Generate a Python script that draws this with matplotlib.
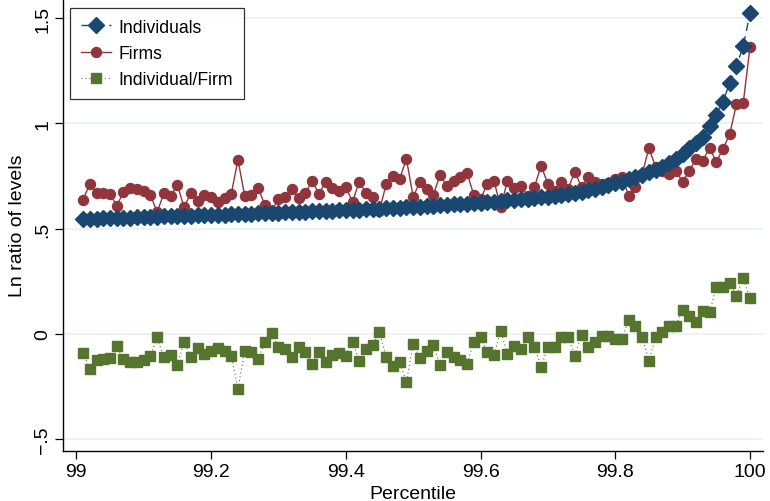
import numpy as np
import matplotlib
matplotlib.use("Agg")
import matplotlib.pyplot as plt

plt.rcParams['font.family'] = ['Liberation Sans', 'DejaVu Sans']

# percentile grid 99.01 ... 100
percentile = np.linspace(99.01, 100.0, 100)

individuals = [
    0.546, 0.547, 0.548, 0.549, 0.550, 0.551, 0.552, 0.553, 0.554, 0.555,
    0.556, 0.557, 0.558, 0.559, 0.560, 0.561, 0.562, 0.563, 0.564, 0.565,
    0.566, 0.567, 0.568, 0.570, 0.571, 0.572, 0.573, 0.574, 0.575, 0.576,
    0.577, 0.578, 0.579, 0.580, 0.582, 0.583, 0.584, 0.585, 0.587, 0.588,
    0.589, 0.591, 0.592, 0.594, 0.595, 0.597, 0.598, 0.600, 0.602, 0.603,
    0.605, 0.607, 0.609, 0.611, 0.613, 0.615, 0.617, 0.619, 0.621, 0.623,
    0.625, 0.628, 0.631, 0.634, 0.637, 0.640, 0.643, 0.646, 0.649, 0.652,
    0.655, 0.659, 0.664, 0.670, 0.676, 0.683, 0.690, 0.698, 0.706, 0.715,
    0.724, 0.734, 0.745, 0.757, 0.769, 0.781, 0.795, 0.812, 0.833, 0.856,
    0.882, 0.908, 0.937, 0.987, 1.040, 1.103, 1.194, 1.273, 1.368, 1.524,
]

firms = [
    0.638, 0.712, 0.668, 0.668, 0.665, 0.609, 0.673, 0.692, 0.688, 0.680,
    0.661, 0.578, 0.668, 0.654, 0.708, 0.601, 0.669, 0.630, 0.661, 0.649,
    0.628, 0.644, 0.665, 0.828, 0.654, 0.660, 0.692, 0.612, 0.585, 0.641,
    0.649, 0.689, 0.644, 0.668, 0.728, 0.665, 0.720, 0.692, 0.680, 0.697,
    0.628, 0.723, 0.668, 0.649, 0.585, 0.712, 0.752, 0.736, 0.831, 0.652,
    0.720, 0.689, 0.660, 0.757, 0.701, 0.728, 0.744, 0.765, 0.660, 0.640,
    0.712, 0.728, 0.601, 0.728, 0.692, 0.701, 0.657, 0.697, 0.800, 0.712,
    0.680, 0.723, 0.689, 0.771, 0.697, 0.744, 0.723, 0.712, 0.717, 0.736,
    0.744, 0.657, 0.697, 0.760, 0.884, 0.792, 0.776, 0.760, 0.776, 0.723,
    0.776, 0.831, 0.823, 0.884, 0.818, 0.879, 0.950, 1.093, 1.097, 1.362,
]

ratio = [
    -0.091, -0.167, -0.123, -0.120, -0.117, -0.060, -0.120, -0.132, -0.132, -0.125,
    -0.107, -0.017, -0.112, -0.101, -0.148, -0.037, -0.109, -0.069, -0.096, -0.080,
    -0.069, -0.080, -0.104, -0.262, -0.080, -0.088, -0.120, -0.037, 0.002, -0.061,
    -0.072, -0.109, -0.064, -0.088, -0.144, -0.085, -0.136, -0.101, -0.091, -0.104,
    -0.037, -0.128, -0.072, -0.053, 0.007, -0.112, -0.152, -0.136, -0.228, -0.048,
    -0.115, -0.080, -0.053, -0.147, -0.088, -0.112, -0.123, -0.144, -0.040, -0.017,
    -0.088, -0.101, 0.015, -0.096, -0.056, -0.072, -0.017, -0.061, -0.156, -0.064,
    -0.064, -0.017, -0.017, -0.104, -0.006, -0.064, -0.037, -0.012, -0.009, -0.025,
    -0.025, 0.067, 0.036, -0.014, -0.128, -0.017, 0.010, 0.036, 0.039, 0.113,
    0.086, 0.058, 0.110, 0.102, 0.221, 0.221, 0.240, 0.181, 0.264, 0.169,
]

xticks = [99, 99.2, 99.4, 99.6, 99.8, 100]
xticklabels = ["99", "99.2", "99.4", "99.6", "99.8", "100"]
yticks = [-0.5, 0, 0.5, 1, 1.5]
yticklabels = ["\u2212.5", "0", ".5", "1", "1.5"]

navy = "#1a476f"
maroon = "#90353b"
green = "#55752f"

fig = plt.figure(figsize=(7.7, 5.02), dpi=100)
ax = fig.add_axes([63.3 / 770, (502 - 452.3) / 502, (762.7 - 63.3) / 770, 452.3 / 502])

ax.plot(percentile, firms, color=maroon, lw=1.0, marker="o", ms=7.2,
        mec=maroon, mfc=maroon, label="Firms", zorder=3)
ax.plot(percentile, individuals, color=navy, lw=1.0, ls=(0, (6, 4)), marker="D", ms=8.2,
        mec=navy, mfc=navy, label="Individuals", zorder=4)
ax.plot(percentile, ratio, color=green, lw=0.8, ls=(0, (1, 2.5)), marker="s", ms=7.0,
        mec=green, mfc=green, label="Individual/Firm", zorder=3)

ax.set_xlim(98.9807, 100.0189)
ax.set_ylim(-0.5585, 1.5918)
ax.set_xticks(xticks)
ax.set_xticklabels(xticklabels)
ax.set_yticks(yticks)
ax.set_yticklabels(yticklabels, rotation=90, va="center")

ax.yaxis.grid(True, color="#eaf2f3", lw=1.3)
ax.set_axisbelow(True)
for s in ["top", "right"]:
    ax.spines[s].set_visible(False)
for s in ["left", "bottom"]:
    ax.spines[s].set_linewidth(1.0)
ax.tick_params(axis="both", length=5.5, width=0.9, labelsize=14, pad=3)

ax.set_xlabel("Percentile", fontsize=14, labelpad=3.5)
ax.set_ylabel("Ln ratio of levels", fontsize=14, labelpad=6)

handles, labels = ax.get_legend_handles_labels()
order = [1, 0, 2]
leg = ax.legend([handles[i] for i in order], [labels[i] for i in order],
                loc="upper left", bbox_to_anchor=(70 / 770, 1 - 9 / 502),
                bbox_transform=fig.transFigure, borderaxespad=0, fontsize=12.7,
                frameon=True, fancybox=False, edgecolor="black", handlelength=1.7,
                handletextpad=0.45, labelspacing=0.52, borderpad=0.6)
leg.get_frame().set_linewidth(0.9)

fig.savefig("out.png", dpi=100)
